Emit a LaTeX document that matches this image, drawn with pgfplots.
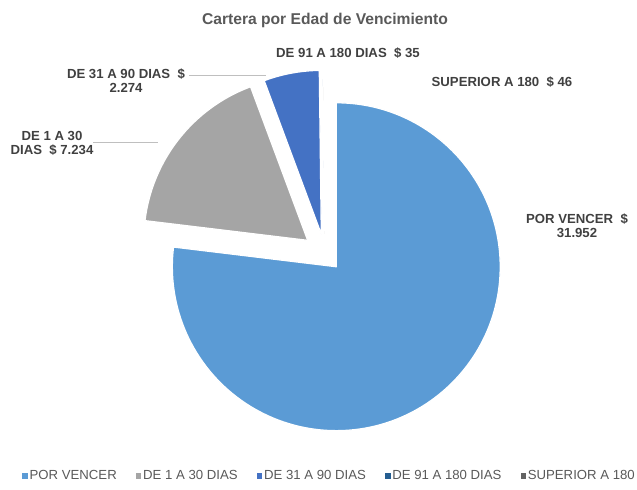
\documentclass[border=0pt]{standalone}
\usepackage{pgfplots}
\pgfplotsset{compat=1.18}
\usepackage{pgfplotstable}
\usepackage{fontspec}
\setmainfont{Liberation Sans}
\definecolor{slice0}{HTML}{5B9BD5}
\definecolor{slice1}{HTML}{A5A5A5}
\definecolor{slice2}{HTML}{4472C4}
\definecolor{slice3}{HTML}{255E91}
\definecolor{slice4}{HTML}{636363}
\definecolor{txt}{HTML}{404040}
\definecolor{leg}{HTML}{595959}

\pgfplotstableread{
idx value explode
0 31952 17
1 7234 22
2 2274 20
3 35 20
4 46 20
}\piedata

\pgfplotsset{sqleg/.style={legend image code/.code={\fill[#1] (0cm,-0.045cm) rectangle (0.09cm,0.045cm);}}}

\begin{document}
\begin{tikzpicture}
\def\cx{325}
\def\cy{236}
\def\R{3.28cm}
\def\total{0}
\pgfplotsforeachungrouped \i in {0,...,4}{%
  \pgfplotstablegetelem{\i}{value}\of\piedata
  \xdef\total{\fpeval{\total+\pgfplotsretval}}%
}
\begin{axis}[
  x=0.02cm, y=0.02cm, scale only axis,
  xmin=0, xmax=637, ymin=0, ymax=490,
  hide axis, clip=false,
  legend columns=5,
  legend style={draw=none, fill=none, at={(axis cs:22,14)}, anchor=west,
    font=\fontsize{7.5}{8.5}\selectfont, text=leg, inner sep=0pt,
    nodes={inner sep=1.2pt},
    /tikz/every even column/.append style={column sep=0.34cm}},
]
\path (axis cs:0,0) rectangle (axis cs:637,490);
\def\cum{0}
\pgfplotsforeachungrouped \i in {0,...,4}{%
  \pgfplotstablegetelem{\i}{value}\of\piedata \let\v\pgfplotsretval
  \pgfplotstablegetelem{\i}{explode}\of\piedata \let\e\pgfplotsretval
  \edef\sa{\fpeval{round(90-360*\cum/\total,4)}}%
  \edef\cum{\fpeval{\cum+\v}}%
  \edef\ea{\fpeval{round(90-360*\cum/\total,4)}}%
  \edef\ma{\fpeval{(\sa+\ea)/2}}%
  \edef\px{\fpeval{round(\cx+\e*cosd(\ma),3)}}%
  \edef\py{\fpeval{round(\cy+\e*sind(\ma),3)}}%
  \edef\slice{\noexpand\filldraw[fill=slice\i, draw=white, line width=0.75pt, line join=round] (axis cs:\px,\py) -- ++(\sa:\R) arc[start angle=\sa, end angle=\ea, radius=\R] -- cycle;}%
  \slice
}
\addlegendimage{sqleg=slice0}
\addlegendimage{sqleg=slice1}
\addlegendimage{sqleg=slice2}
\addlegendimage{sqleg=slice3}
\addlegendimage{sqleg=slice4}
\legend{POR VENCER, DE 1 A 30 DIAS, DE 31 A 90 DIAS, DE 91 A 180 DIAS, SUPERIOR A 180}
% title
\node[font=\bfseries\fontsize{8.9}{10}\selectfont, text=leg] at (axis cs:325,470) {Cartera por Edad de Vencimiento};
% leader lines
\draw[black!25, line width=0.5pt] (axis cs:189,415) -- (axis cs:266,415);
\draw[black!25, line width=0.5pt] (axis cs:93,348) -- (axis cs:158,348);
% data labels
\begin{scope}[every node/.style={font=\bfseries\fontsize{7.5}{8}\selectfont, text=txt, align=center, inner sep=0pt}]
\node at (axis cs:348,437) {DE 91 A 180 DIAS\ \ \$ 35};
\node at (axis cs:126,409) {DE 31 A 90 DIAS\ \ \$\\2.274};
\node at (axis cs:502,408) {SUPERIOR A 180\ \ \$ 46};
\node at (axis cs:52,347) {DE 1 A 30\\DIAS\ \ \$ 7.234};
\node at (axis cs:577,264) {POR VENCER\ \ \$\\31.952};
\end{scope}
\end{axis}
\end{tikzpicture}
\end{document}
